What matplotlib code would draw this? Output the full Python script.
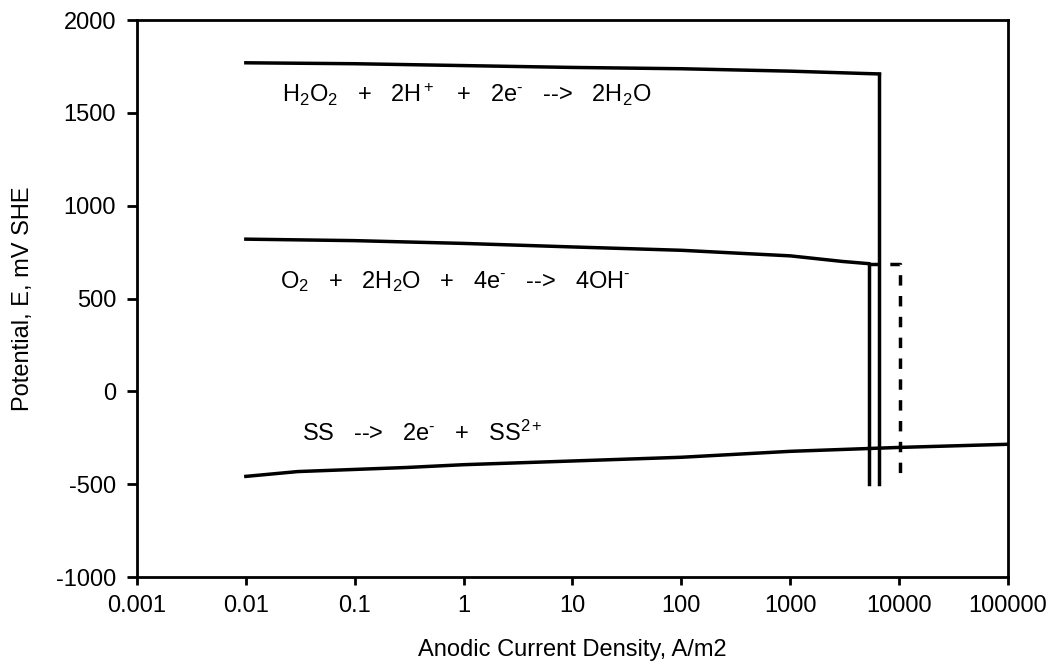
import matplotlib
matplotlib.use("Agg")
import matplotlib.pyplot as plt
import numpy as np

plt.rcParams['font.family'] = ['Liberation Sans', 'DejaVu Sans']
plt.rcParams['mathtext.fontset'] = 'custom'
plt.rcParams['mathtext.rm'] = 'Liberation Sans'
plt.rcParams['mathtext.it'] = 'Liberation Sans'
plt.rcParams['axes.unicode_minus'] = False

# H2O2 reduction line
h2o2_x = [0.01, 0.1, 1, 10, 100, 1000, 5000, 6600]
h2o2_y = [1770, 1765, 1755, 1745, 1738, 1725, 1712, 1710]
h2o2_vert_x = [6600, 6600]
h2o2_vert_y = [1710, -500]

# O2 reduction line
o2_x = [0.01, 0.1, 1, 10, 100, 1000, 3000, 5250]
o2_y = [820, 812, 797, 778, 760, 730, 700, 688]
o2_vert_x = [5250, 5250]
o2_vert_y = [688, -500]

# dashed line
dash_x = [5250, 10200, 10200]
dash_y = [688, 688, -460]

# SS oxidation line
ss_x = [0.01, 0.03, 0.3, 1, 10, 100, 1000, 10000, 100000]
ss_y = [-458, -432, -410, -395, -375, -355, -323, -302, -285]

xticks = [0.001, 0.01, 0.1, 1, 10, 100, 1000, 10000, 100000]
xticklabels = ['0.001', '0.01', '0.1', '1', '10', '100', '1000', '10000', '100000']
yticks = [-1000, -500, 0, 500, 1000, 1500, 2000]

fig = plt.figure(figsize=(10.57, 6.70), dpi=100)
ax = fig.add_axes([0.1296, 0.1388, 0.824, 0.8312])

lw = 2.5
ax.plot(h2o2_x, h2o2_y, color='black', lw=lw)
ax.plot(h2o2_vert_x, h2o2_vert_y, color='black', lw=lw)
ax.plot(o2_x, o2_y, color='black', lw=lw)
ax.plot(o2_vert_x, o2_vert_y, color='black', lw=lw)
ax.plot(dash_x, dash_y, color='black', lw=lw, linestyle=(0, (3, 3)))
ax.plot(ss_x, ss_y, color='black', lw=lw)

ax.set_xscale('log')
ax.set_xlim(0.001, 100000)
ax.set_ylim(-1000, 2000)
ax.set_xticks(xticks)
ax.set_xticklabels(xticklabels)
ax.minorticks_off()
ax.set_yticks(yticks)
ax.tick_params(axis='both', direction='out', width=2, labelsize=17)
ax.tick_params(axis='x', length=6, pad=7)
ax.tick_params(axis='y', length=7, pad=8)
for s in ax.spines.values():
    s.set_linewidth(2)

ax.set_xlabel('Anodic Current Density, A/m2', fontsize=17, va='center')
ax.xaxis.set_label_coords(0.5, -0.131)
ax.set_ylabel('Potential, E, mV SHE', fontsize=17, va='center')
ax.yaxis.set_label_coords(-0.131, 0.5)

hy = '\u2010'
ax.text(0.0215, 1600, r'H$_2$O$_2$   +   2H$^+$   +   2e$^{' + hy + r'}$   -->   2H$_2$O',
        fontsize=17, va='center', ha='left')
ax.text(0.0205, 592, r'O$_2$   +   2H$_2$O   +   4e$^{' + hy + r'}$   -->   4OH$^{' + hy + r'}$',
        fontsize=17, va='center', ha='left')
ax.text(0.0327, -226, r'SS   -->   2e$^{' + hy + r'}$   +   SS$^{2+}$',
        fontsize=17, va='center', ha='left')

fig.savefig('out.png', dpi=100)
